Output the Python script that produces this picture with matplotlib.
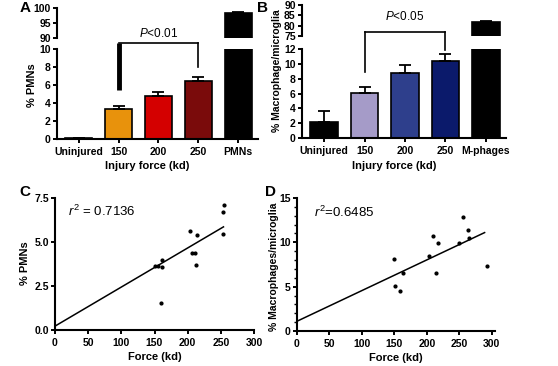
import matplotlib
matplotlib.use('Agg')
import matplotlib.pyplot as plt
import numpy as np
from matplotlib.ticker import MultipleLocator

plt.rcParams['font.family'] = 'Liberation Sans'
plt.rcParams['font.weight'] = 'bold'
plt.rcParams['axes.labelweight'] = 'bold'
plt.rcParams['mathtext.fontset'] = 'custom'
plt.rcParams['mathtext.rm'] = 'Liberation Sans:weight=normal'
plt.rcParams['mathtext.it'] = 'Liberation Sans:style=italic:weight=normal'
plt.rcParams['axes.linewidth'] = 1.5
plt.rcParams['xtick.major.width'] = 1.4
plt.rcParams['ytick.major.width'] = 1.4
plt.rcParams['xtick.major.size'] = 3
plt.rcParams['ytick.major.size'] = 3
plt.rcParams['xtick.major.pad'] = 2.5
plt.rcParams['ytick.major.pad'] = 1.5
plt.rcParams['xtick.labelsize'] = 7.5
plt.rcParams['ytick.labelsize'] = 7.5

W, H = 558, 366

# Panel A - PMNs
groups_a = ['Uninjured', '150', '200', '250', 'PMNs']
pmn_mean = [0.08, 3.3, 4.8, 6.4, 98.2]
pmn_sem = [0, 0.4, 0.4, 0.45, 0.4]
colors_a = ['black', '#E8920C', '#D40000', '#7A0B0B', 'black']

# Panel B - macrophages/microglia
groups_b = ['Uninjured', '150', '200', '250', 'M-phages']
mac_mean = [2.2, 6.1, 8.8, 10.4, 82.0]
mac_sem = [1.4, 0.8, 1.0, 0.9, 0.5]
colors_b = ['black', '#A59BC8', '#2E3F8C', '#0B1A6B', 'black']

# Panel C - scatter PMNs vs force
force_c = [151, 155, 161, 162, 160, 203.5, 207, 211, 212, 213.5, 253, 255, 254]
pmn_c = [3.66, 3.66, 3.98, 3.59, 1.56, 5.65, 4.36, 4.36, 3.7, 5.4, 6.68, 7.08, 5.46]
fit_c_x = [0, 254]
fit_c_y = [0.22, 5.86]

# Panel D - scatter macrophages vs force
force_d = [149, 151, 158.5, 163.5, 204, 210, 213.5, 216.5, 249.5, 256, 264, 265.5, 292]
mac_d = [8.17, 5.06, 4.54, 6.49, 8.51, 10.69, 6.49, 9.9, 9.9, 12.86, 11.36, 10.5, 7.31]
fit_d_x = [0, 289]
fit_d_y = [1.1, 11.1]


def px_rect(left, right, top, bottom):
    return [left / W, 1 - bottom / H, (right - left) / W, (bottom - top) / H]


def bar_panel(fig, rect_lo, rect_hi, names, means, sems, colors, lo_lim, hi_lim, lo_step, hi_step):
    ax_hi = fig.add_axes(rect_hi)
    ax_lo = fig.add_axes(rect_lo)
    x = np.arange(len(names))
    for ax in (ax_lo, ax_hi):
        ax.patch.set_visible(False)
        ax.bar(x, means, width=0.68, color=colors, edgecolor='black', linewidth=1.2)
        ax.errorbar(x, means, yerr=[np.zeros(len(x)), sems], fmt='none', ecolor='black',
                    elinewidth=1.3, capsize=4.5, capthick=1.3)
        ax.set_xlim(-0.55, 4.5)
        ax.spines['top'].set_visible(False)
        ax.spines['right'].set_visible(False)
    ax_lo.set_ylim(*lo_lim)
    ax_lo.yaxis.set_major_locator(MultipleLocator(lo_step))
    ax_lo.set_xticks(x)
    ax_lo.set_xticklabels(names)
    ax_hi.set_ylim(*hi_lim)
    ax_hi.yaxis.set_major_locator(MultipleLocator(hi_step))
    ax_hi.spines['bottom'].set_visible(False)
    ax_hi.set_xticks([])
    return ax_lo, ax_hi


fig = plt.figure(figsize=(W / 100, H / 100), dpi=100)

# ---- A ----
ax_a, ax_a2 = bar_panel(fig, px_rect(57, 258, 49, 139), px_rect(57, 258, 8, 38),
                        groups_a, pmn_mean, pmn_sem, colors_a, (0, 10), (90, 100), 2, 5)
# significance bracket 150 vs 250
br_a_top = 10.67
ax_a.plot([1, 1], [5.44, br_a_top], color='black', lw=3.5, clip_on=False, solid_capstyle='butt')
ax_a.plot([1, 3], [br_a_top, br_a_top], color='black', lw=1.2, clip_on=False)
ax_a.plot([3, 3], [8.0, br_a_top], color='black', lw=1.2, clip_on=False)
ax_a.text(2, 11.0, r'$P$<0.01', ha='center', va='bottom', fontsize=8.5, fontweight='normal')

# ---- B ----
ax_b, ax_b2 = bar_panel(fig, px_rect(302, 506, 49, 138), px_rect(302, 506, 5, 36),
                        groups_b, mac_mean, mac_sem, colors_b, (0, 12), (75, 90), 2, 5)
br_b_top = 14.3
ax_b.plot([1, 1], [8.9, br_b_top], color='black', lw=1.2, clip_on=False)
ax_b.plot([1, 3], [br_b_top, br_b_top], color='black', lw=1.2, clip_on=False)
ax_b.plot([3, 3], [11.86, br_b_top], color='black', lw=1.2, clip_on=False)
ax_b.text(2, 15.5, r'$P$<0.05', ha='center', va='bottom', fontsize=8.5, fontweight='normal')

# ---- C ----
ax_c = fig.add_axes(px_rect(55, 254, 198, 330))
ax_c.scatter(force_c, pmn_c, s=4, color='black', zorder=3)
ax_c.plot(fit_c_x, fit_c_y, color='black', lw=1.1)
ax_c.set_xlim(0, 300)
ax_c.set_ylim(0, 7.5)
ax_c.xaxis.set_major_locator(MultipleLocator(50))
ax_c.set_yticks([0, 2.5, 5.0, 7.5])
ax_c.set_yticklabels(['0.0', '2.5', '5.0', '7.5'])
ax_c.set_xlabel('Force (kd)', fontsize=8, labelpad=3)
ax_c.text(20, 6.75, r'$r^2$ = 0.7136', fontsize=9.5, fontweight='normal', va='center')

# ---- D ----
ax_d = fig.add_axes(px_rect(297, 495, 198, 331))
ax_d.scatter(force_d, mac_d, s=4, color='black', zorder=3)
ax_d.plot(fit_d_x, fit_d_y, color='black', lw=1.1)
ax_d.set_xlim(0, 305)
ax_d.set_ylim(0, 15)
ax_d.xaxis.set_major_locator(MultipleLocator(50))
ax_d.yaxis.set_major_locator(MultipleLocator(5))
ax_d.yaxis.set_minor_locator(MultipleLocator(1))
ax_d.tick_params(axis='y', which='minor', length=2, width=1.0)
ax_d.set_xlabel('Force (kd)', fontsize=8, labelpad=3)
ax_d.text(26, 13.4, r'$r^2$=0.6485', fontsize=9.5, fontweight='normal', va='center')

for ax in (ax_c, ax_d):
    ax.spines['top'].set_visible(False)
    ax.spines['right'].set_visible(False)

# y labels placed by hand
fig.text(32 / W, 1 - 85 / H, '% PMNs', rotation=90, ha='center', va='center', fontsize=8)
fig.text(277 / W, 1 - 71 / H, '% Macrophage/microglia', rotation=90, ha='center', va='center', fontsize=7.5)
fig.text(25 / W, 1 - 263 / H, '% PMNs', rotation=90, ha='center', va='center', fontsize=8)
fig.text(274 / W, 1 - 267 / H, '% Macrophages/microglia', rotation=90, ha='center', va='center', fontsize=7.5)
fig.text(147 / W, 1 - 166 / H, 'Injury force (kd)', ha='center', va='center', fontsize=8)
fig.text(394 / W, 1 - 166 / H, 'Injury force (kd)', ha='center', va='center', fontsize=8)

# panel letters
for letter, (px, py) in zip('ABCD', [(25, 8), (263, 8), (25, 192), (270, 192)]):
    fig.text(px / W, 1 - py / H, letter, ha='center', va='center', fontsize=11, fontweight='bold')

fig.savefig('out.png', dpi=100)
